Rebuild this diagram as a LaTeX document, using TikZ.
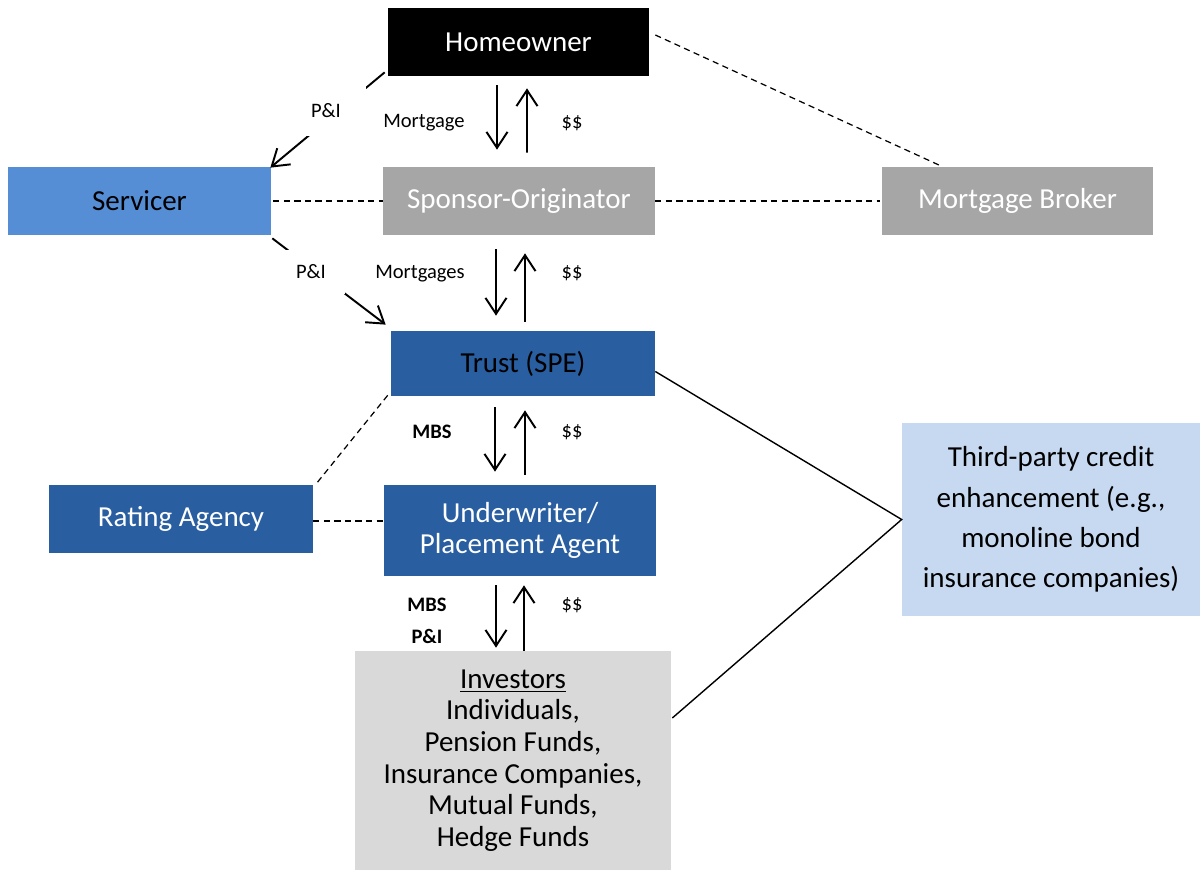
\documentclass[tikz,border=0pt]{standalone}
\usepackage{fontspec}
\setmainfont{Carlito}
\usetikzlibrary{arrows.meta, positioning, calc}
\definecolor{servblue}{RGB}{85, 142, 213}
\definecolor{darkblue}{RGB}{41, 94, 161}
\definecolor{paleblue}{RGB}{198, 217, 241}
\definecolor{midgray}{RGB}{166, 166, 166}
\definecolor{palegray}{RGB}{217, 217, 217}

\begin{document}
\begin{tikzpicture}[
    x=0.02cm, y=-0.02cm,
    box/.style={
        rectangle, inner sep=0pt, minimum height=1.36cm, align=center,
        font=\fontsize{16.5}{18}\selectfont
    },
    black_box/.style={box, fill=black, text=white, minimum width=5.22cm},
    serv_box/.style={box, fill=servblue, text=black, minimum width=5.26cm},
    gray_box/.style={box, fill=midgray, text=white, minimum width=5.44cm},
    dark_box/.style={box, fill=darkblue, text=white, minimum width=5.28cm},
    pale_box/.style={box, fill=paleblue, text=black, minimum width=5.96cm, minimum height=3.86cm,
        font=\fontsize{16.5}{23}\selectfont},
    inv_box/.style={box, fill=palegray, text=black, minimum width=6.32cm, minimum height=4.38cm},
    flow/.style={-{Straight Barb[length=3.2mm, width=4.2mm]}, line width=1.1pt},
    link/.style={line width=0.7pt, dash pattern=on 3.5pt off 2.5pt},
    tie/.style={line width=0.8pt},
    lbl/.style={inner sep=1pt, font=\fontsize{11.7}{14}\selectfont},
    gap_lbl/.style={lbl, fill=white}
]
    \useasboundingbox (0,0) rectangle (1201,871);

    % --- Boxes ---
    \node[black_box] (home) at (518.5, 42) {Homeowner};
    \node[serv_box] (servicer) at (139.5, 201) {Servicer};
    \node[gray_box] (sponsor) at (519, 201) {Sponsor-Originator};
    \node[gray_box, minimum width=5.42cm] (broker) at (1017.5, 201) {Mortgage Broker};
    \node[dark_box, text=black, minimum height=1.3cm] (trust) at (523, 363.5) {Trust (SPE)};
    \node[dark_box] (rating) at (181, 519) {Rating Agency};
    \node[dark_box, minimum width=5.44cm, minimum height=1.82cm] (under) at (520, 530.5) {Underwriter/\\Placement Agent};
    \node[pale_box] (third) at (1051, 519.5) {Third-party credit\\enhancement (e.g.,\\monoline bond\\insurance companies)};
    \node[inv_box] (invest) at (513, 760.5) {\underline{Investors}\\Individuals,\\Pension Funds,\\Insurance Companies,\\Mutual Funds,\\Hedge Funds};

    % --- Dashed links ---
    \draw[link] ($(home.east)+(6,-7)$) -- ($(broker.north)+(-75,0)$);
    \draw[link] ($(servicer.east)+(2,0)$) -- (sponsor.west);
    \draw[link] (sponsor.east) -- ($(broker.west)+(-2,0)$);
    \draw[link] ($(trust.south west)+(-3,-1)$) -- ($(rating.north east)+(3,-1)$);
    \draw[link] ($(rating.east)+(0,2)$) -- ($(rating.east -| under.west)+(0,2)$);

    % --- Credit enhancement ties ---
    \draw[tie] ($(trust.east)+(0,8)$) -- (third.west) -- ($(invest.east)+(1,-42.5)$);

    % --- Vertical flows ---
    \draw[flow] ($(home.south)+(-21.5,9)$) -- ($(sponsor.north)+(-22,-17)$);
    \draw[flow] ($(sponsor.north)+(8,-14)$) -- ($(home.south)+(8.5,12)$);
    \draw[flow] ($(sponsor.south)+(-23,14)$) -- ($(trust.north)+(-27,-15)$);
    \draw[flow] ($(trust.north)+(2,-9)$) -- ($(sponsor.south)+(6,18)$);
    \draw[flow] ($(trust.south)+(-28,11)$) -- ($(under.north)+(-25,-13)$);
    \draw[flow] ($(under.north)+(5,-10)$) -- ($(trust.south)+(2,14)$);
    \draw[flow] ($(under.south)+(-24,9)$) -- ($(invest.north)+(-17,-3)$);
    \draw[flow] (invest.north) ++(11,0) -- ($(under.south)+(4,9)$);

    % --- P&I to and from the servicer ---
    \draw[flow] ($(home.south west)+(-3,-4)$) -- ($(servicer.north east)+(-1,1)$);
    \draw[flow] ($(servicer.south east)+(1,3)$) -- ($(trust.north west)+(-5,-6)$);

    % --- Labels ---
    \node[gap_lbl, minimum width=1.6cm, minimum height=1.0cm] (pi_top) at (326, 111) {P\&I};
    \node[gap_lbl, minimum width=1.36cm, minimum height=0.88cm] (pi_mid) at (311, 272) {P\&I};
    \node[lbl] (mortgage) at (424, 123) {Mortgage};
    \node[lbl] (cash_a) at (572, 123) {\$\$};
    \node[lbl] (mortgages) at (420, 274) {Mortgages};
    \node[lbl] (cash_b) at (572, 273) {\$\$};
    \node[lbl, font=\fontsize{11.7}{14}\selectfont\bfseries] (mbs_a) at (432, 432) {MBS};
    \node[lbl] (cash_c) at (572, 432) {\$\$};
    \node[lbl, font=\fontsize{11.7}{14}\selectfont\bfseries] (mbs_b) at (427, 605) {MBS};
    \node[lbl, font=\fontsize{11.7}{14}\selectfont\bfseries] (pi_low) at (427, 636) {P\&I};
    \node[lbl] (cash_d) at (572, 605) {\$\$};

\end{tikzpicture}
\end{document}
